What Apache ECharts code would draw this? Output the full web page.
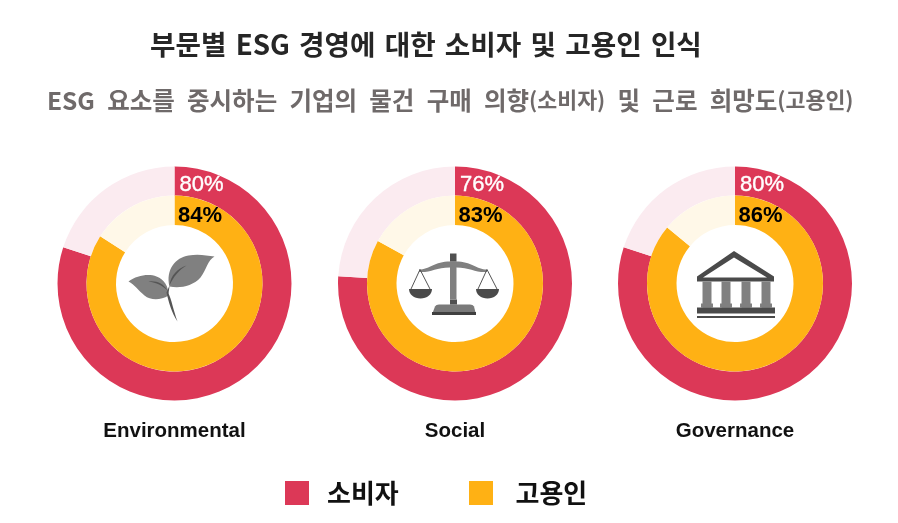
<!DOCTYPE html>
<html>
<head>
<meta charset="utf-8">
<style>
html, body { margin: 0; padding: 0; background: #fff; }
#chart { width: 898px; height: 523px; }
</style>
<script src="https://cdn.jsdelivr.net/npm/echarts@6/dist/echarts.min.js"></script>
</head>
<body>
<div id="chart"></div>
<script>
const categories = ['Environmental', 'Social', 'Governance']
const consumerValues = [80, 76, 80]
const employeeValues = [84, 83, 86]
const legendNames = ['소비자', '고용인']

const centersX = [174.5, 455, 735]
const centerY = 283.5
const RED = '#dc3857'
const RED_LIGHT = '#fbebf0'
const ORANGE = '#ffb114'
const ORANGE_LIGHT = '#fff8e8'
const KR_FONT = '"Noto Sans CJK KR", sans-serif'
const EN_FONT = '"Liberation Sans", Arial, sans-serif'

const ringSeries = (name, values, i, radius, color, lightColor, z) => ({
  name: categories[i] + ' ' + name,
  type: 'pie',
  center: [centersX[i], centerY],
  radius,
  startAngle: 90,
  silent: true,
  z,
  label: { show: false },
  labelLine: { show: false },
  data: [
    { name, value: values[i], itemStyle: { color } },
    { name: name + ' 나머지', value: 100 - values[i], itemStyle: { color: lightColor } }
  ]
})

// 아이콘은 파이 중심 기준 좌표, graphic 에는 path 타입이 없어서 등록해서 쓴다
let shapeCount = 0
const path = (d, fill, extra) => {
  const type = 'iconPath' + shapeCount++
  echarts.graphic.registerShape(type, echarts.graphic.extendPath(d, {}))
  return { type, style: { fill, ...extra } }
}
const rect = (x, y, width, height, fill) => ({ type: 'rect', shape: { x, y, width, height }, style: { fill } })

const plantIcon = [
  path('M-5,3 C-9,-14 1,-26 14,-28 C24,-30 32,-28 40,-27 C33,-23 32,-14 26,-6 C18,3 5,5 -5,3 Z', '#808080'),
  path('M-46,-2 C-38,-8 -26,-10 -18,-7 C-10,-4 -6,3 -6,12 C-14,17 -24,17 -30,12 C-36,7 -40,1 -46,-2 Z', '#808080'),
  path('M-5,2 C-4,-8 3,-15 12,-18 C5,-14 -1,-7 -5,2 Z', '#555555'),
  path('M-26,-2 C-18,-3 -11,0 -7,7 C-12,2 -18,-1 -26,-2 Z', '#555555'),
  path('M-8,9 L-5,2 C-5,5 -6,8 -6,10 C-3,16 -1,27 3,38 C-3,29 -6,18 -8,9 Z', '#555555')
]

const scaleIcon = [
  path('M-23,31 L-20,23 Q-19,21 -16,21 L15,21 Q18,21 19,23 L21,31 Z', '#7a7a7a'),
  rect(-23, 28.5, 44, 3, '#404040'),
  rect(-5, 16, 7, 5, '#505050'),
  rect(-5, -22, 6.5, 38, '#808080'),
  rect(-5, -30, 6.5, 8, '#505050'),
  path('M-36,-14 C-25,-14 -20,-23 -2,-22 C16,-23 21,-14 32,-14 L32,-11.5 C20,-10.5 14,-17 -2,-16 C-18,-17 -24,-10.5 -36,-11.5 Z', '#808080'),
  path('M-46,5.5 L-23,5.5 C-23,11 -28,15 -34.5,15 C-41,15 -46,11 -46,5.5 Z', '#4a4a4a'),
  path('M21,5.5 L44,5.5 C44,11 39,15 32.5,15 C26,15 21,11 21,5.5 Z', '#4a4a4a'),
  path('M-44,5.5 L-35,-14 L-25,5.5', 'none', { stroke: '#555555', lineWidth: 1 }),
  path('M23,5.5 L32,-14 L42,5.5', 'none', { stroke: '#555555', lineWidth: 1 })
]

const bankIcon = [
  path('M-1,-32.5 L39,-7 L39,-2 L-38,-2 L-38,-7 Z M-1,-26 L-32,-6 L32,-6 Z', '#4a4a4a'),
  ...[-28, -9, 11, 31].flatMap(x => [
    rect(x - 4.5, -2, 9, 26, '#808080'),
    rect(x - 6, 20, 12, 4, '#808080')
  ]),
  rect(-38, 24, 78, 6, '#4a4a4a'),
  rect(-38, 32.5, 78, 2, '#4a4a4a')
]

const icons = [plantIcon, scaleIcon, bankIcon]

const percentText = (x, y, text, fill, fontWeight, stroke) => ({
  type: 'text',
  x,
  y,
  z: 10,
  style: {
    text, fill, stroke, lineWidth: stroke ? 0.4 : 0,
    font: `${fontWeight} 22px ${EN_FONT}`, textAlign: 'left', textVerticalAlign: 'middle'
  }
})

const legendItem = (name, left, gap) => ({
  data: [name],
  left,
  top: 480,
  padding: 0,
  icon: 'rect',
  itemWidth: 24,
  itemHeight: 24,
  selectedMode: false,
  textStyle: { fontFamily: KR_FONT, fontSize: 26, fontWeight: 'bold', color: '#111', padding: [0, 0, 0, gap] }
})

const chart = echarts.init(document.getElementById('chart'), null, { renderer: 'canvas' })

chart.setOption({
  animation: false,
  backgroundColor: '#fff',
  title: [
    {
      text: '부문별\u2004ESG\u2004경영에\u2004대한\u2004소비자\u2004및\u2004고용인\u2004인식',
      left: 150, top: 31, padding: 0,
      textStyle: { fontFamily: KR_FONT, fontSize: 27.7, fontWeight: 'bold', color: '#262626' }
    },
    {
      text: '{m|ESG\u2002요소를\u2002중시하는\u2002기업의\u2002물건\u2002구매\u2002의향}{s|(소비자)}{m|\u2002및\u2002근로\u2002희망도}{s|(고용인)}',
      left: 47, top: 88, padding: 0,
      textStyle: {
        rich: {
          m: { fontFamily: KR_FONT, fontSize: 24.5, fontWeight: 'bold', color: '#6f6a6a' },
          s: { fontFamily: KR_FONT, fontSize: 21.7, fontWeight: 'bold', color: '#6f6a6a' }
        }
      }
    },
    ...categories.map((text, i) => ({
      text,
      left: centersX[i],
      top: 421,
      padding: 0,
      textAlign: 'center',
      textStyle: { fontFamily: EN_FONT, fontSize: 20.5, fontWeight: 'bold', color: '#111' }
    }))
  ],
  legend: [legendItem(legendNames[0], 285, 13), legendItem(legendNames[1], 469, 17.5)],
  series: categories.flatMap((c, i) => [
    ringSeries(legendNames[0], consumerValues, i, [88, 117], RED, RED_LIGHT, 2),
    ringSeries(legendNames[1], employeeValues, i, [58.5, 88], ORANGE, ORANGE_LIGHT, 3)
  ]),
  graphic: categories.flatMap((c, i) => [
    percentText(centersX[i] + 5, 185, consumerValues[i] + '%', '#fff', 'normal', '#fff'),
    percentText(centersX[i] + 3.5, 216, employeeValues[i] + '%', '#000', 'bold'),
    { type: 'group', x: centersX[i], y: centerY, z: 10, children: icons[i] }
  ])
})
</script>
</body>
</html>
